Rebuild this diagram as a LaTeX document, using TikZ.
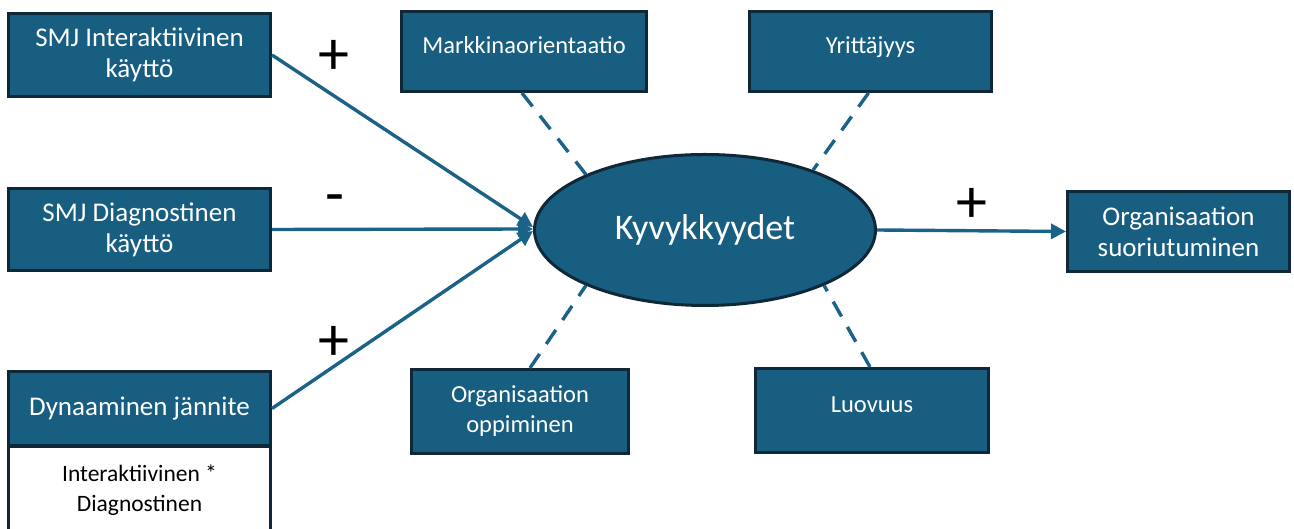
\documentclass[tikz,border=0pt]{standalone}
\usepackage{fontspec}
\setmainfont{Carlito}
\usetikzlibrary{arrows.meta,shapes.geometric}
\definecolor{boxfill}{RGB}{24,94,128}
\definecolor{boxline}{RGB}{14,40,56}
\definecolor{conn}{RGB}{26,98,135}
\begin{document}
\begin{tikzpicture}[x=1pt,y=1pt,
 box/.style={draw=boxline, fill=boxfill, line width=3pt, text=white, align=center, inner sep=0pt},
 bigt/.style={font=\fontsize{27}{31}\selectfont},
 midt/.style={font=\fontsize{24.5}{30}\selectfont},
 upt/.style={text height=17pt, text depth=13pt},
 arr/.style={draw=conn, line width=3.4pt, -{Triangle[length=15pt,width=15pt]}},
 dsh/.style={draw=conn, line width=3.4pt, dash pattern=on 17pt off 12pt},
 sign/.style={font=\fontsize{62}{62}\selectfont, text=black, inner sep=0pt}]
\useasboundingbox (0,0) rectangle (1294,529);
% left boxes
\node[box, bigt, minimum width=262pt, minimum height=83pt] (b1) at (139.5,474) {SMJ Interaktiivinen\\käyttö};
\node[box, bigt, minimum width=262pt, minimum height=82pt] (b2) at (139.5,299.5) {SMJ Diagnostinen\\käyttö};
\node[draw=boxline, fill=white, line width=3pt, align=center, inner sep=0pt, font=\fontsize{23.5}{30}\selectfont, minimum width=262pt, minimum height=86pt] (wb) at (139.5,39) {Interaktiivinen *\\Diagnostinen};
\node[box, bigt, minimum width=262pt, minimum height=74pt] (b3) at (139.5,120.5) {Dynaaminen jännite};
% middle boxes
\node[box, midt, upt, minimum width=245pt, minimum height=80pt] (m1) at (524,477.5) {Markkinaorientaatio};
\node[box, midt, upt, minimum width=242pt, minimum height=80pt] (m2) at (870.5,477.5) {Yrittäjyys};
\node[box, midt, minimum width=217pt, minimum height=84pt] (m3) at (520,117.5) {Organisaation\\oppiminen};
\node[box, midt, upt, minimum width=233pt, minimum height=84pt] (m4) at (872,118.5) {Luovuus};
% output box
\node[box, bigt, minimum width=222pt, minimum height=80pt] (out) at (1178.5,297.5) {Organisaation\\suoriutuminen};
% ellipse
\node[ellipse, draw=boxline, fill=boxfill, line width=3pt, text=white, inner sep=0pt, minimum width=341pt, minimum height=151pt, font=\fontsize{36}{40}\selectfont] (ell) at (705,299) {Kyvykkyydet};
% arrows
\draw[arr] (b1.east) -- ([yshift=3pt]ell.west);
\draw[arr] (b2.east) -- ([yshift=1pt]ell.west);
\draw[arr] (b3.east) -- ([yshift=-1pt]ell.west);
\draw[arr] (ell.east) -- (out.west);
% dashed
\draw[dsh] ([xshift=-2pt]m1.south) -- (ell.155);
\draw[dsh] ([xshift=-2pt]m2.south) -- (ell.29);
\draw[dsh] ([xshift=10pt]m3.north) -- (ell.205);
\draw[dsh] ([xshift=-2pt]m4.north) -- (ell.335);
% signs
\node[sign] (s1) at (334,472) {+};
\node[sign] (s2) at (334.5,324) {-};
\node[sign] (s3) at (334,186) {+};
\node[sign] (s4) at (972,324) {+};
\end{tikzpicture}
\end{document}
